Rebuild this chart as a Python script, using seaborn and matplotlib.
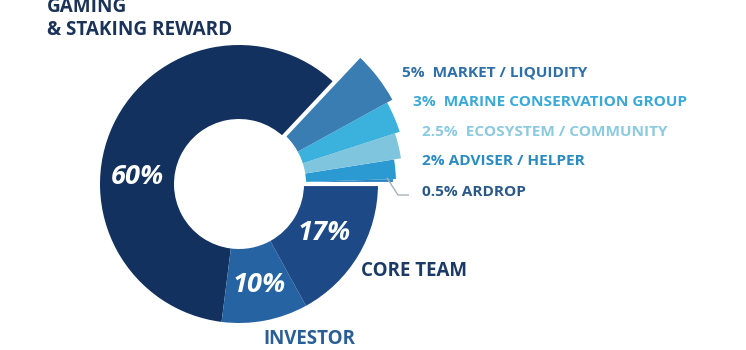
import matplotlib
matplotlib.use("Agg")
import matplotlib.pyplot as plt
import seaborn as sns

# Token allocation, counter-clockwise from 3 o'clock
categories = ["ARDROP", "ADVISER / HELPER", "ECOSYSTEM / COMMUNITY",
              "MARINE CONSERVATION GROUP", "MARKET / LIQUIDITY",
              "GAMING\n& STAKING REWARD", "INVESTOR", "CORE TEAM"]
shares = [0.5, 2, 2.5, 3, 5, 60, 10, 17]
share_labels = ["0.5%", "2%", "2.5%", "3%", "5%", "60%", "10%", "17%"]

palette = ["#2b84c2", "#2c9ad2", "#7fc5de", "#3bb1dd", "#3a7db3",
           "#13315e", "#2563a3", "#1d4a87"]
text_colors = ["#2b5987", "#2b8bc1", "#8ccae0", "#3aa9d7", "#2f6fa6",
               "#1b3358", "#2a5f95", "#1c3a66"]

sns.set_theme(style="white")
plt.rcParams["font.family"] = ["Open Sans", "DejaVu Sans"]

W, H = 746, 350
fig = plt.figure(figsize=(W / 100, H / 100), dpi=100)
ax = fig.add_axes([0, 0, 1, 1])

cx, cy = 239, H - 184
r_out, r_in = 139, 65
# the five small allocations fan out beyond the ring
fan_radii = [154, 157, 164, 169, 175]
n_small = len(fan_radii)

wedges, _ = ax.pie(shares, colors=palette, startangle=0, counterclock=True,
                   radius=r_out, center=(cx, cy), frame=True,
                   wedgeprops=dict(width=r_out - r_in, linewidth=0))
for w, r in zip(wedges[:n_small], fan_radii):
    w.set_radius(r)
    w.set_width(r - r_in)

# white separation around the fanned group
group = [sum(shares[:n_small]), sum(shares[n_small:])]
gw, _ = ax.pie(group, colors=["none", "none"], startangle=0, counterclock=True,
               radius=180, center=(cx, cy), frame=True,
               wedgeprops=dict(width=180 - r_in, linewidth=3))
gw[0].set_edgecolor("white")
gw[1].set_edgecolor("none")

ax.set_xlim(0, W)
ax.set_ylim(0, H)
ax.set_aspect("equal")
ax.axis("off")

def y(v):
    return H - v

# percentages inside the ring
inner = {5: (137, 177), 6: (259, 285), 7: (324, 233)}
for i, (px, py) in inner.items():
    ax.text(px, y(py), share_labels[i], color="white", fontsize=19.5,
            fontweight="bold", fontstyle="italic", ha="center", va="center",
            zorder=5)

# ring category names
ax.text(47, y(35), categories[5], color=text_colors[5], fontsize=13.6,
        fontweight="bold", ha="left", va="baseline", linespacing=1.2,
        zorder=5)
ax.text(361, y(271.5), categories[7], color=text_colors[7], fontsize=13.5,
        fontweight="bold", ha="left", va="center", zorder=5)
ax.text(263, y(339.5), categories[6], color=text_colors[6], fontsize=13.5,
        fontweight="bold", ha="left", va="center", zorder=5)

# fanned group legend
side = {4: (402, 72.5, "  "), 3: (413, 102.5, "  "), 2: (422, 131.5, "  "),
        1: (422, 161, " "), 0: (422, 191.5, " ")}
for i, (px, py, sep) in side.items():
    ax.text(px, y(py), share_labels[i] + sep + categories[i],
            color=text_colors[i], fontsize=11.1, fontweight="bold",
            ha="left", va="center", zorder=5)

# leader line for the smallest slice
ax.plot([387, 398, 409], [y(178), y(195), y(195)], color="#a5b1bc",
        linewidth=1, solid_capstyle="butt", zorder=4)

fig.savefig("out.png", dpi=100, facecolor="white")
